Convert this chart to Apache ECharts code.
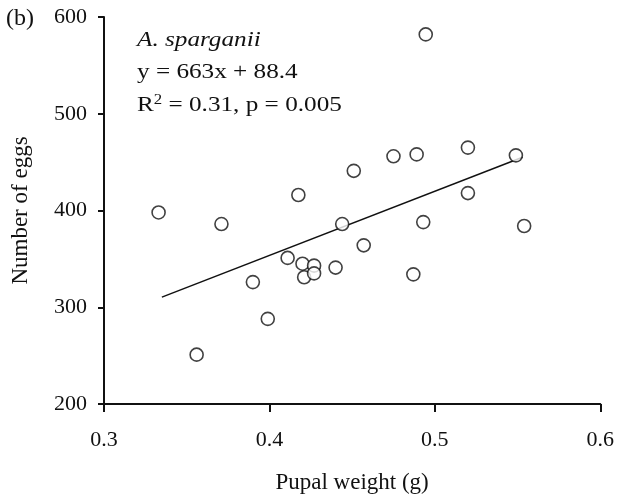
<!DOCTYPE html>
<html>
<head>
<meta charset="utf-8">
<script src="https://cdn.jsdelivr.net/npm/echarts@6/dist/echarts.min.js"></script>
<style>html,body{margin:0;padding:0;background:#fff;}#c{width:617px;height:504px;}</style>
</head>
<body>
<div id="c"></div>
<script>
// Pupal weight (g) and number of eggs for A. sparganii
var pupalWeight = [0.333, 0.371, 0.4175, 0.444, 0.411, 0.420, 0.427, 0.421, 0.427, 0.440, 0.390, 0.399, 0.356,
                   0.451, 0.475, 0.489, 0.520, 0.549, 0.520, 0.493, 0.554, 0.457, 0.487, 0.4945];
var eggCount    = [398, 386, 416, 386, 351, 345, 343, 331, 335, 341, 326, 288, 251,
                   441, 456, 458, 465, 457, 418, 388, 384, 364, 334, 582];
// Regression: y = 663x + 88.4
var slope = 663, intercept = 88.4;
var fitRange = [0.335, 0.553];
var xTicks = [0.3, 0.4, 0.5, 0.6];
var yTicks = [200, 300, 400, 500, 600];

var pts = pupalWeight.map(function (x, i) { return [x, eggCount[i]]; });
var fitLine = fitRange.map(function (x) { return [x, slope * x + intercept]; });

var font = 'Liberation Serif';
var chart = echarts.init(document.getElementById('c'), null, {renderer: 'canvas'});
chart.setOption({
  animation: false,
  backgroundColor: '#fff',
  grid: {left: 104, right: 16, top: 17, bottom: 100, containLabel: false},
  xAxis: {
    type: 'value', min: xTicks[0], max: xTicks[xTicks.length - 1], interval: 0.1,
    name: 'Pupal weight (g)', nameLocation: 'middle', nameGap: 67,
    nameTextStyle: {fontFamily: font, fontSize: 23, color: '#111'},
    axisLine: {show: true, lineStyle: {color: '#111', width: 2}},
    axisTick: {show: true, length: 8, inside: false, lineStyle: {color: '#111', width: 2}},
    axisLabel: {fontFamily: font, fontSize: 22, color: '#111', margin: 25,
      formatter: function (v) { return v.toFixed(1); }},
    splitLine: {show: false}
  },
  yAxis: {
    type: 'value', min: yTicks[0], max: yTicks[yTicks.length - 1], interval: 100,
    name: 'Number of eggs', nameLocation: 'middle', nameGap: 72,
    nameTextStyle: {fontFamily: font, fontSize: 23, color: '#111'},
    axisLine: {show: true, lineStyle: {color: '#111', width: 2}},
    axisTick: {show: true, length: 6, inside: false, lineStyle: {color: '#111', width: 2}},
    axisLabel: {fontFamily: font, fontSize: 22, color: '#111', margin: 17},
    splitLine: {show: false}
  },
  series: [
    {
      type: 'line', data: fitLine, symbol: 'none',
      lineStyle: {color: '#111', width: 1.5}, z: 2
    },
    {
      type: 'scatter', data: pts, symbol: 'circle', symbolSize: 13,
      itemStyle: {color: '#fff', borderColor: '#111', borderWidth: 1.6}, z: 3
    }
  ],
  graphic: [
    {type: 'text', x: 6, y: 19, style: {text: '(b)', font: '24px "Liberation Serif"', fill: '#111', verticalAlign: 'middle'}},
    {type: 'text', x: 137, y: 40, scaleX: 1.2, style: {text: 'A. sparganii', font: 'italic 21px "Liberation Serif"', fill: '#111', verticalAlign: 'middle'}},
    {type: 'text', x: 137, y: 72, scaleX: 1.2, style: {text: 'y = 663x + 88.4', font: '21px "Liberation Serif"', fill: '#111', verticalAlign: 'middle'}},
    {type: 'text', x: 137, y: 105, scaleX: 1.2, style: {
      text: 'R{sup|2} = 0.31, p = 0.005',
      font: '21px "Liberation Serif"', fill: '#111', verticalAlign: 'middle',
      rich: {sup: {fontFamily: font, fontSize: 14, verticalAlign: 'top', padding: [0, 0, 10, 0], fill: '#111'}}
    }}
  ]
});
</script>
</body>
</html>
